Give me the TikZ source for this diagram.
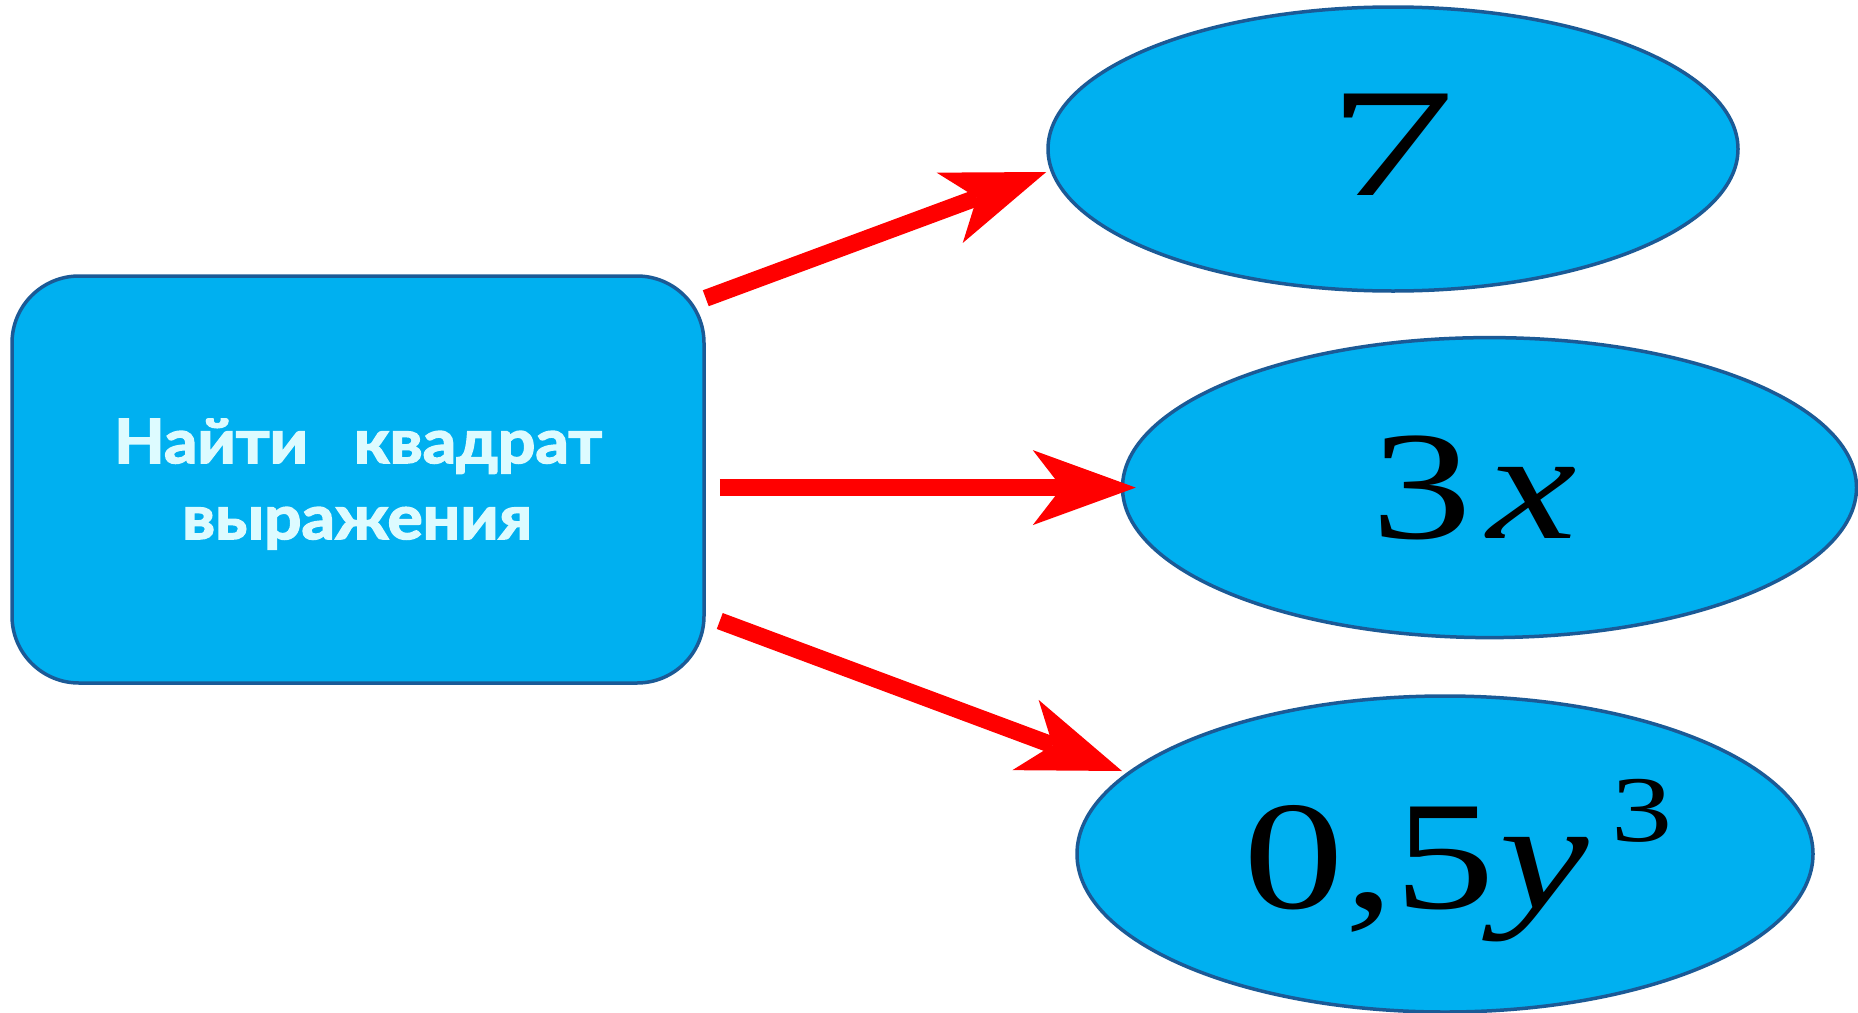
\documentclass[tikz,border=0pt]{standalone}
\usepackage{fontspec}
\usetikzlibrary{arrows.meta,shapes.geometric,calc}
\newfontfamily\labelsans{Lato}[FakeStretch=1.08, BoldFeatures={FakeBold=2.6}]
\newfontfamily\mathserif{Liberation Serif}[FakeStretch=1.3]
\newfontfamily\sevenserif{Liberation Serif}[FakeStretch=1.65]
\definecolor{cellfill}{HTML}{00B0F0}
\definecolor{cellline}{HTML}{1B5A96}
\definecolor{labeltext}{HTML}{DDFBFF}
\definecolor{arrowred}{HTML}{FF0000}
\tikzset{
  term/.style={ellipse, draw=cellline, line width=3.5pt, fill=cellfill, inner sep=0pt},
  taskbox/.style={rectangle, rounded corners=67pt, draw=cellline, line width=3.5pt, fill=cellfill,
    inner sep=0pt},
  tasktext/.style={anchor=base, inner sep=0pt, text=labeltext,
    font=\labelsans\bfseries\fontsize{61}{76}\selectfont},
  expr/.style={anchor=base, inner sep=0pt, font=\mathserif\fontsize{155}{155}\selectfont},
  bigarrow/.style={draw=arrowred, line width=17pt,
    -{Stealth[length=103pt, width=75pt, inset=29pt, line width=0pt]}},
}
\begin{document}
\begin{tikzpicture}[x=1pt, y=-1pt]
\useasboundingbox (0,0) rectangle (1858,1012);
% task box and its two text lines
\node[taskbox, minimum width=692pt, minimum height=407pt] (task) at (358,479.5) {};
\node[tasktext] (line1) at (358,463) {Найти\hspace{0.75em}квадрат};
\node[tasktext] (line2) at (357,539) {выражения};
% the three expressions
\node[term, minimum width=690pt, minimum height=284pt] (e1) at (1393,149) {};
\node[term, minimum width=734pt, minimum height=300pt] (e2) at (1489.5,487.6) {};
\node[term, minimum width=736pt, minimum height=316pt] (e3) at (1445,854) {};
\node[expr, font=\sevenserif\fontsize{155}{155}\selectfont] (t1) at (1391,195) {7};
\node[expr] (t2) at (1474,538) {3\kern0.1em\textit{x}};
\node[expr] (t3) at (1458,908) {0,5\kern0.03em\textit{y}\kern22pt\raisebox{67pt}{\fontsize{94}{94}\selectfont 3}};
% arrows
\draw[bigarrow] ($(task.north east)+(0,24)$) -- ($(e1.west)+(0,23)$);
\draw[bigarrow] ($(task.east |- e2.west)+(14,0)$) -- ($(e2.west)+(15,0)$);
\draw[bigarrow] ($(task.east)+(14,141.5)$) -- ($(e3.center)+(-323,-83)$);
\end{tikzpicture}
\end{document}
